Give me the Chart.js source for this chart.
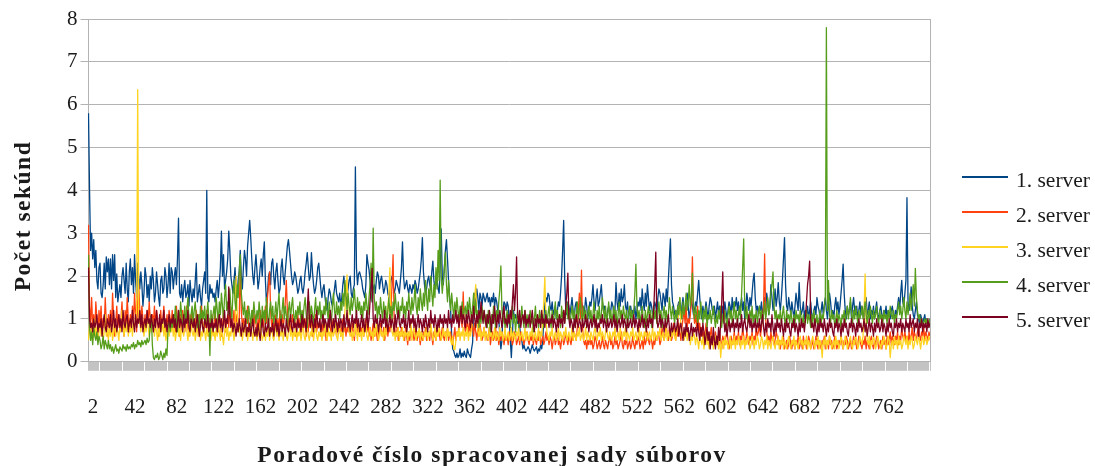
<!DOCTYPE html>
<html><head><meta charset="utf-8">
<script src="https://cdn.jsdelivr.net/npm/chart.js@4.4.0/dist/chart.umd.min.js"></script>
<style>
html,body{margin:0;padding:0;background:#fff;}
#wrap{position:relative;width:1095px;height:466px;overflow:hidden;font-family:'Liberation Serif',serif;color:#1a1a1a;}
canvas{position:absolute;left:0;top:0;}
#xtitle{position:absolute;left:192px;width:600px;top:441px;text-align:center;font-weight:bold;font-size:23.5px;letter-spacing:1.5px;line-height:26px;white-space:nowrap;}
#ytitle{position:absolute;left:-98px;top:201px;width:240px;height:30px;line-height:30px;text-align:center;font-weight:bold;font-size:23.5px;letter-spacing:1.5px;transform:rotate(-90deg);white-space:nowrap;}
.lg-line{position:absolute;left:962px;width:46px;height:1.5px;}
.lg-text{position:absolute;left:1016px;font-size:21.5px;line-height:24px;white-space:nowrap;}
</style></head><body>
<div id="wrap"><canvas id="c" width="1095" height="466"></canvas>
<div id="xtitle">Poradové číslo spracovanej sady súborov</div>
<div id="ytitle">Počet sekúnd</div>
<div id="legend"></div>
</div>
<script>
const categories = Array.from({length: 805}, (_, i) => String(i + 1));
const tickLabels = ['2','42','82','122','162','202','242','282','322','362','402','442','482','522','562','602','642','682','722','762'];
const seriesNames = ['1. server','2. server','3. server','4. server','5. server'];
const seriesColors = ['#004586','#ff420e','#ffd320','#579d1c','#7e0021'];

const server1 = [
5.8,4.0,2.6,3.0,2.4,2.85,2.2,2.6,1.9,1.7,2.2,2.3,1.6,1.5,1.8,2.3,1.7,2.45,2.1,2.4,
1.8,2.4,1.7,2.5,1.9,2.5,1.5,2.05,1.4,1.6,1.8,1.5,2.0,2.2,1.9,1.6,2.3,1.7,1.4,2.1,
2.4,1.8,2.2,1.6,2.5,1.9,1.5,2.3,2.0,1.7,2.1,1.8,1.3,1.6,2.2,2.0,1.5,1.8,1.4,2.0,
1.7,2.2,1.9,1.4,1.6,2.1,1.8,1.5,1.3,1.9,2.0,1.6,1.7,2.2,2.0,1.5,1.8,2.3,1.6,2.2,
2.1,1.7,2.0,2.2,1.8,2.4,3.35,1.6,1.5,1.8,1.4,1.7,1.9,1.5,1.6,1.8,1.3,1.9,1.6,1.4,
1.7,1.5,1.9,2.3,1.4,1.6,1.8,1.5,1.3,1.7,1.9,2.1,1.6,4.0,1.5,1.4,1.8,1.6,1.7,1.5,
1.6,1.4,1.7,1.9,1.5,1.8,2.2,3.05,2.0,2.5,1.7,1.9,2.1,2.4,3.05,2.6,2.0,1.8,1.6,1.9,
2.2,1.7,1.5,1.9,2.1,2.6,2.0,1.7,2.2,2.6,2.4,2.0,2.7,3.0,3.3,2.9,2.4,2.0,1.8,2.2,
2.5,2.1,1.7,1.9,2.2,2.4,2.0,2.5,2.8,1.9,1.4,1.6,2.0,2.1,1.8,2.3,2.4,2.0,1.7,2.1,
2.3,1.9,1.6,1.7,2.2,2.4,2.0,1.8,2.1,2.4,2.7,2.85,2.6,2.3,2.0,1.8,1.9,2.1,2.0,1.8,
1.6,1.7,1.9,2.0,1.7,1.6,1.8,2.1,2.3,2.55,2.2,1.9,2.0,2.55,2.1,1.8,1.6,1.7,1.9,2.2,
2.3,2.0,1.7,1.5,1.7,1.8,1.5,1.3,1.2,1.5,1.7,1.6,1.4,1.3,1.5,1.7,1.9,1.6,1.5,1.4,
1.6,1.3,1.5,1.8,2.0,1.7,1.4,1.5,1.7,1.9,2.0,1.6,1.5,1.7,1.8,4.55,2.2,1.8,2.05,2.1,
2.0,1.9,1.7,1.6,1.5,1.8,2.5,2.3,2.15,1.9,1.6,1.4,1.7,1.8,1.6,1.9,2.1,2.0,1.7,1.9,
2.0,1.8,1.6,1.7,1.9,1.8,1.6,1.5,1.7,1.9,2.0,1.8,1.6,1.7,1.9,1.8,1.7,1.6,1.9,2.2,
2.8,2.0,1.7,1.8,1.9,1.7,1.6,1.8,1.7,1.6,1.8,1.7,1.9,1.8,1.6,1.7,1.9,2.1,2.4,2.9,
2.1,1.8,1.6,1.7,1.9,2.0,1.8,1.7,2.1,2.35,1.9,1.7,1.8,1.9,1.7,1.6,2.2,3.1,2.0,1.8,
2.2,2.6,2.85,2.4,1.9,1.5,1.2,0.6,0.3,0.25,0.15,0.1,0.2,0.1,0.15,0.3,0.1,0.2,0.12,0.25,
0.15,0.1,0.3,0.2,0.15,0.1,0.3,0.45,1.3,1.6,1.4,1.7,1.5,1.2,1.6,1.5,1.3,1.6,1.5,1.4,
1.5,1.6,1.4,1.5,1.3,1.5,1.4,1.6,1.3,1.5,1.4,1.2,1.0,0.6,0.3,0.5,1.2,1.4,1.35,1.2,
1.4,1.3,0.95,0.5,0.1,0.6,1.2,1.0,1.1,1.0,0.9,0.95,0.8,0.6,0.5,0.3,0.4,0.3,0.25,0.3,
0.35,0.3,0.2,0.3,0.4,0.3,0.25,0.3,0.35,0.2,0.3,0.25,0.4,0.3,0.5,1.0,1.35,1.5,1.4,1.6,
1.55,1.3,1.2,1.4,1.1,1.2,1.3,1.0,1.2,1.4,1.3,1.6,2.0,2.6,3.3,1.9,1.2,1.1,1.4,1.3,
1.1,1.3,1.5,1.2,1.0,1.3,1.4,1.2,1.1,1.3,1.2,1.4,1.3,1.1,1.2,1.5,1.3,1.0,1.2,1.4,
1.3,1.5,1.8,1.4,1.2,1.5,1.7,1.3,1.4,1.6,1.8,1.4,1.2,1.3,1.1,1.0,1.2,1.3,1.1,1.2,
1.4,1.3,1.1,1.2,1.85,1.4,1.2,1.6,1.3,1.7,1.4,1.5,1.8,1.3,1.2,1.4,1.0,1.2,1.3,1.1,
1.2,1.1,1.3,1.0,1.2,1.4,1.3,1.5,1.2,1.7,1.4,1.2,1.6,1.3,1.8,1.5,1.2,1.4,1.3,1.1,
1.2,1.4,1.3,1.1,1.5,1.7,1.6,1.4,1.2,1.6,1.5,1.3,1.7,1.4,1.9,2.4,2.87,1.8,1.4,1.3,
1.1,1.2,1.0,1.3,1.4,1.2,1.0,1.3,1.5,1.2,1.1,1.4,1.6,1.3,1.0,1.2,1.5,1.3,1.1,1.2,
1.4,1.3,1.6,1.9,1.5,1.2,1.0,1.3,1.1,1.2,1.4,1.2,1.0,1.3,1.5,1.4,1.2,1.1,1.3,1.0,
1.2,1.4,1.1,1.3,1.2,1.0,1.3,1.1,1.4,1.2,1.0,1.2,1.4,1.3,1.1,1.5,1.2,1.4,1.3,1.5,
1.2,1.4,1.1,1.3,1.5,1.2,1.4,1.0,1.3,1.6,1.4,1.2,1.5,1.3,1.6,1.9,2.07,1.5,1.2,1.3,
1.1,1.3,1.2,1.4,1.0,1.3,1.5,1.2,1.6,1.4,1.1,1.3,1.8,1.5,1.2,1.4,1.7,1.3,1.5,1.85,
1.4,1.2,1.5,1.9,2.4,2.9,1.8,1.3,1.2,1.5,1.3,1.1,1.4,1.2,1.0,1.3,1.6,1.4,1.2,1.85,
1.3,1.1,1.2,1.4,1.0,1.2,1.1,1.3,1.0,1.2,1.4,1.1,1.0,1.2,1.3,1.1,1.5,1.3,1.2,1.0,
1.2,1.4,1.1,1.3,1.5,1.2,1.0,1.3,1.6,1.4,1.1,1.2,1.0,1.3,1.5,1.2,1.4,1.1,1.3,1.6,
1.9,2.28,1.6,1.2,1.0,1.3,1.1,1.2,1.4,1.0,1.3,1.5,1.2,1.1,1.3,1.0,1.2,1.4,1.1,1.3,
1.2,1.0,1.3,1.5,1.1,1.2,1.4,1.0,1.2,1.1,1.3,1.0,1.2,1.4,1.1,1.0,1.2,1.3,1.1,1.0,
1.2,1.1,1.3,1.0,1.2,1.1,1.0,1.2,1.3,1.1,1.0,1.2,1.1,1.3,1.5,1.2,1.6,1.9,1.4,1.3,
1.6,1.9,3.83,1.4,1.2,1.4,1.75,1.3,1.1,1.0,1.2,1.4,1.1,1.0,0.9,1.1,1.0,0.9,1.0,1.1,
0.9,1.0,0.8,0.9,1.0];

const server2 = [
3.2,1.3,0.9,1.5,0.8,1.1,0.7,1.4,1.0,0.6,1.2,0.9,1.3,0.7,1.0,0.8,1.5,0.9,0.6,1.1,
0.8,1.2,0.7,1.6,1.0,0.6,0.9,1.3,0.8,1.1,0.7,1.0,1.4,0.8,0.6,1.2,0.9,1.5,1.0,0.7,
1.1,0.8,1.3,0.9,1.6,1.1,0.7,1.4,1.8,1.2,0.9,1.3,1.0,0.7,1.1,0.8,1.2,0.9,1.4,1.0,
0.7,1.1,0.9,1.3,0.8,1.2,1.0,0.6,0.9,1.2,0.8,1.0,1.3,0.9,0.7,1.1,0.8,1.2,1.0,0.9,
1.2,0.8,1.1,0.7,1.3,0.9,1.0,0.6,1.1,0.8,1.2,0.9,0.7,1.0,1.3,0.8,0.6,1.1,0.9,1.2,
0.8,1.0,0.7,1.2,0.9,0.6,1.1,0.8,1.3,0.9,0.7,1.0,0.8,1.2,0.9,0.6,1.0,0.8,1.1,0.7,
0.9,1.2,0.8,1.0,0.7,1.1,0.9,0.6,0.8,1.2,1.0,0.7,0.9,1.1,0.8,1.3,1.0,0.7,0.9,1.2,
0.8,1.1,0.9,0.7,1.0,2.35,1.2,0.8,1.0,0.7,1.1,0.9,1.3,0.8,0.6,1.0,0.9,1.2,0.8,1.1,
0.9,0.7,1.0,0.8,1.2,0.9,1.1,0.8,1.0,1.3,0.9,1.5,1.8,2.1,1.2,0.8,1.0,0.7,0.9,1.1,
0.8,1.0,0.7,1.2,0.9,1.1,0.8,1.0,1.4,1.9,1.2,0.8,1.0,0.7,0.9,1.1,0.8,1.0,0.6,0.9,
1.1,0.8,1.0,0.7,0.9,1.2,0.8,1.0,0.6,0.9,0.7,1.1,0.8,1.0,0.6,0.9,0.8,1.1,0.7,0.9,
0.8,1.0,0.6,0.9,0.7,1.0,0.8,0.5,0.9,0.7,1.1,0.8,0.6,0.9,1.0,0.7,0.8,0.6,0.9,0.7,
0.9,0.6,0.8,1.0,0.7,0.9,0.6,0.8,0.7,1.0,0.8,0.6,0.9,0.7,0.5,0.8,1.0,0.7,0.9,0.6,
0.8,0.7,0.9,0.6,0.8,1.0,0.7,0.9,0.6,0.8,0.5,0.7,0.9,0.6,0.8,0.7,0.5,0.8,0.6,0.9,
0.7,0.6,0.8,0.5,0.7,0.9,0.6,0.8,0.7,1.2,1.8,2.5,1.0,0.7,0.6,0.8,0.5,0.7,0.6,0.8,
0.6,0.7,0.5,0.8,0.6,0.4,0.7,0.5,0.8,0.6,0.7,0.5,0.6,0.8,0.5,0.7,0.6,0.4,0.7,0.5,
0.7,0.6,0.8,0.5,0.6,0.7,0.5,0.8,0.6,0.4,0.7,0.6,0.5,0.8,0.6,0.7,0.5,0.6,0.8,0.6,
0.5,0.7,0.6,0.8,0.5,0.6,0.7,0.5,0.4,0.6,0.8,0.5,0.7,0.6,0.9,1.2,1.0,0.8,1.63,0.9,
0.7,0.8,1.0,0.6,0.9,0.7,1.1,0.8,0.6,0.9,0.7,0.5,0.8,0.6,0.9,0.7,0.5,0.6,0.8,0.6,
0.7,0.5,0.6,0.8,0.4,0.6,0.7,0.5,0.6,0.8,0.5,0.7,0.4,0.6,0.5,0.7,0.6,0.4,0.6,0.5,
0.6,0.4,0.7,0.5,0.6,0.4,0.5,0.7,0.6,0.4,0.5,0.6,0.4,0.7,0.5,0.6,0.4,0.5,0.6,0.7,
0.5,0.4,0.6,0.5,0.7,0.4,0.6,0.5,0.4,0.6,0.5,0.7,0.4,0.5,0.6,0.4,0.5,0.7,0.5,0.6,
0.4,0.6,0.5,0.3,0.5,0.6,0.4,0.5,0.7,0.4,0.5,0.3,0.5,0.6,0.4,0.5,0.7,0.5,0.4,0.6,
0.5,0.4,0.6,0.5,0.7,0.6,0.5,0.8,1.2,1.6,1.0,2.14,0.8,0.5,0.4,0.5,0.3,0.5,0.4,0.6,
0.4,0.5,0.3,0.4,0.6,0.5,0.3,0.4,0.5,0.3,0.4,0.6,0.4,0.3,0.5,0.4,0.3,0.5,0.6,0.4,
0.5,0.3,0.4,0.6,0.4,0.5,0.3,0.4,0.5,0.7,0.4,0.3,0.5,0.4,0.6,0.3,0.4,0.5,0.3,0.4,
0.6,0.4,0.3,0.5,0.4,0.6,0.5,0.3,0.4,0.5,0.3,0.6,0.4,0.5,0.7,0.5,0.4,0.6,0.5,0.3,
0.5,0.4,0.6,0.5,0.7,0.6,0.4,0.5,0.8,0.6,0.5,0.7,0.9,0.6,0.5,0.8,0.7,0.5,0.6,0.9,
0.7,0.5,0.8,0.6,0.9,0.7,0.5,0.8,1.0,1.2,0.9,1.3,0.8,1.0,0.9,1.1,1.4,2.45,1.2,0.9,
1.1,0.8,1.3,0.7,0.9,0.6,0.8,0.5,0.7,0.6,0.9,0.5,0.7,0.4,0.6,0.8,0.5,0.6,0.4,0.7,
0.5,0.6,0.4,0.7,0.5,0.3,0.6,0.5,0.4,0.6,0.7,0.5,0.3,0.5,0.6,0.4,0.5,0.7,0.4,0.6,
0.5,0.7,0.4,0.6,0.5,0.8,0.6,0.4,0.5,0.7,0.5,0.4,0.6,0.5,0.7,0.4,0.6,0.5,0.8,0.6,
0.7,0.9,0.6,0.8,1.0,1.3,2.52,1.0,0.7,0.5,0.6,0.4,0.7,0.5,0.6,0.4,0.5,0.7,0.6,0.4,
0.5,0.3,0.5,0.4,0.6,0.3,0.4,0.5,0.3,0.4,0.6,0.4,0.3,0.5,0.4,0.3,0.5,0.4,0.6,0.3,
0.4,0.5,0.3,0.6,0.4,0.5,0.3,0.4,0.6,0.5,0.3,0.4,0.5,0.3,0.4,0.6,0.4,0.3,0.5,0.4,
0.3,0.5,0.4,0.6,0.3,0.4,0.5,0.3,0.6,0.4,0.5,0.3,0.4,0.6,0.5,0.3,0.4,0.5,0.4,0.6,
0.4,0.3,0.5,0.4,0.6,0.5,0.3,0.4,0.5,0.3,0.4,0.6,0.4,0.5,0.3,0.4,0.6,0.5,0.4,0.3,
0.5,0.4,0.6,0.3,0.5,0.4,0.3,0.5,0.6,0.4,0.3,0.5,0.4,0.6,0.5,0.3,0.4,0.5,0.3,0.6,
0.4,0.5,0.3,0.6,0.4,0.5,0.7,0.4,0.6,0.5,0.4,0.6,0.5,0.7,0.4,0.6,0.5,0.8,0.6,0.5,
0.7,0.5,0.6,0.4,0.7,0.5,0.6,0.8,0.5,0.7,0.6,0.5,0.7,0.8,0.6,0.5,0.7,0.6,0.8,0.5,
0.7,0.6,0.5,0.7,0.6];

const server3 = [
0.5,0.9,0.6,0.8,0.5,0.7,1.0,0.6,0.8,0.5,0.7,0.9,0.6,0.8,0.5,0.7,1.1,0.6,0.8,0.5,
0.8,0.6,0.9,0.5,0.7,1.0,0.6,0.8,0.7,0.5,0.9,0.7,1.2,0.8,0.6,0.9,0.7,1.0,0.6,0.8,
0.7,0.9,0.6,1.0,0.8,0.9,1.2,6.35,1.0,0.9,0.7,1.0,0.8,0.6,0.9,0.7,1.1,0.8,0.6,0.9,
0.7,1.0,0.8,0.6,0.9,0.7,0.5,0.8,0.6,0.9,0.7,1.0,0.6,0.8,0.5,0.7,0.9,0.6,0.8,0.7,
0.9,0.6,0.8,0.5,0.7,1.0,0.6,0.8,0.5,0.9,0.7,0.6,0.8,1.0,0.7,0.5,0.8,0.6,0.9,0.7,
0.6,0.8,0.5,0.7,0.9,0.6,0.8,0.5,0.7,0.6,0.9,0.7,0.5,0.8,0.6,0.7,0.9,0.5,0.8,0.6,
0.7,0.5,0.8,0.6,0.9,0.7,0.5,0.8,0.6,0.4,0.7,0.9,0.6,0.8,0.5,0.7,0.6,0.9,0.7,0.5,
0.8,2.0,1.2,0.7,0.9,0.6,0.8,0.5,0.7,0.9,0.6,0.8,0.5,0.7,0.6,0.9,0.7,0.5,0.8,0.6,
0.7,0.5,0.8,0.6,0.9,0.7,0.5,0.6,0.8,0.5,0.7,0.6,0.9,0.5,0.7,0.8,0.6,0.5,0.7,0.9,
0.6,0.8,0.5,0.7,0.6,0.9,0.5,0.7,0.8,0.6,0.5,0.7,0.9,0.6,0.8,0.5,0.7,0.6,0.8,0.5,
0.7,0.6,0.8,0.5,0.7,0.9,0.6,0.5,0.7,0.8,0.6,0.5,0.7,0.6,0.9,0.5,0.7,0.8,0.6,0.5,
0.7,0.6,0.8,0.5,0.7,0.6,0.9,0.7,0.5,0.8,0.6,0.7,0.5,0.8,0.6,0.7,0.9,0.6,0.5,0.7,
0.8,0.6,0.7,0.5,0.8,1.2,1.6,2.03,1.0,0.7,0.6,0.8,0.5,0.7,0.6,0.9,0.7,0.5,0.8,0.6,
0.7,0.5,0.8,0.6,0.7,0.9,0.6,0.5,0.7,0.8,0.6,0.7,0.5,0.8,0.6,0.9,0.7,0.5,0.6,0.8,
0.6,0.7,0.5,0.8,0.6,0.7,1.2,1.6,2.2,1.0,0.7,0.6,0.8,0.5,0.7,0.6,0.8,0.5,0.7,0.6,
0.8,0.5,0.7,0.6,0.8,0.5,0.7,0.6,0.9,0.5,0.7,0.8,0.6,0.5,0.7,0.6,0.8,0.5,0.7,0.6,
0.5,0.7,0.6,0.8,0.5,0.7,0.6,0.9,0.7,0.5,0.6,0.8,0.5,0.7,0.6,0.8,0.7,0.5,0.6,0.8,
0.6,0.7,0.5,0.8,0.6,0.7,0.5,0.4,0.6,0.3,0.28,0.5,0.7,0.6,0.8,0.5,0.7,0.6,0.8,0.5,
0.7,0.6,0.8,0.5,0.7,0.6,0.8,1.0,1.3,1.5,1.8,1.0,0.7,0.6,0.8,0.5,0.7,0.6,0.8,0.5,
0.7,0.6,0.5,0.8,0.6,0.7,0.5,0.6,0.8,0.5,0.7,0.6,0.5,0.8,0.6,0.7,0.5,0.6,0.8,0.5,
0.6,0.7,0.5,0.6,0.8,0.5,0.7,0.6,0.5,0.7,0.6,0.8,0.5,0.6,0.7,0.5,0.6,0.8,0.5,0.7,
0.6,0.5,0.7,0.6,0.8,0.5,0.6,0.7,0.5,0.6,0.8,0.5,0.7,0.6,1.0,1.4,1.98,1.0,0.7,0.6,
0.5,0.7,0.6,0.8,0.5,0.6,0.7,0.5,0.6,0.8,0.5,0.7,0.6,0.5,0.7,0.6,0.8,0.5,0.6,0.7,
0.5,0.6,0.8,0.5,0.7,0.6,0.5,0.7,0.6,0.8,0.5,0.6,0.7,0.5,0.6,0.8,0.5,0.7,0.6,0.5,
0.7,0.6,0.5,0.7,0.8,0.6,0.5,0.7,0.6,0.8,0.5,0.7,0.6,0.5,0.7,0.8,0.6,0.5,0.7,0.6,
0.5,0.7,0.6,0.8,0.5,0.6,0.7,0.5,0.8,0.6,0.5,0.7,0.6,0.8,0.5,0.7,0.6,0.5,0.7,0.6,
0.8,0.5,0.6,0.7,0.5,0.6,0.8,0.5,0.7,0.6,0.5,0.7,0.6,0.8,0.5,0.6,0.7,0.5,0.6,0.8,
0.5,0.7,0.6,0.5,0.7,0.6,0.8,0.5,0.6,0.7,0.5,0.6,0.8,0.5,0.7,0.6,0.5,0.7,0.6,0.8,
0.6,0.5,0.7,0.9,1.2,1.5,0.8,0.6,0.7,0.5,0.6,0.8,0.5,0.7,0.6,0.4,0.6,0.5,0.7,0.6,
0.4,0.6,0.5,0.3,0.6,0.5,0.4,0.6,0.3,0.5,0.7,0.4,0.5,0.3,0.6,0.4,0.5,0.3,0.5,0.6,
0.4,0.5,0.3,0.6,0.1,0.4,0.5,0.3,0.6,0.4,0.5,0.3,0.4,0.6,0.3,0.5,0.4,0.6,0.3,0.5,
0.4,0.6,0.5,0.3,0.5,0.4,0.6,0.3,0.5,0.4,0.6,0.5,0.3,0.4,0.6,0.5,0.3,0.5,0.4,0.6,
0.5,0.3,0.4,0.6,0.5,0.3,0.5,0.4,0.6,0.3,0.5,0.4,0.3,0.5,0.6,0.4,0.3,0.5,0.4,0.6,
0.3,0.5,0.4,0.6,0.3,0.5,0.4,0.3,0.5,0.6,0.4,0.3,0.5,0.4,0.6,0.3,0.5,0.4,0.3,0.5,
0.6,0.4,0.5,0.3,0.5,0.4,0.6,0.3,0.5,0.4,0.3,0.5,0.6,0.4,0.3,0.5,0.4,0.6,0.3,0.5,
0.4,0.1,0.5,0.4,0.6,0.3,0.5,0.4,0.6,0.5,0.3,0.4,0.5,0.3,0.6,0.4,0.5,0.3,0.4,0.6,
0.5,0.3,0.4,0.6,0.5,0.3,0.4,0.5,0.6,0.4,0.3,0.5,0.4,0.6,0.5,0.3,0.4,0.6,0.5,0.4,
0.6,1.2,2.05,0.9,0.5,0.4,0.6,0.3,0.5,0.4,0.6,0.5,0.3,0.4,0.6,0.5,0.4,0.3,0.5,0.4,
0.6,0.5,0.3,0.4,0.6,0.5,0.1,0.4,0.5,0.3,0.6,0.4,0.5,0.3,0.6,0.4,0.5,0.3,0.4,0.6,
0.5,0.4,0.6,0.3,0.5,0.4,0.6,0.5,0.3,0.4,0.6,0.5,0.4,0.6,0.5,0.3,0.5,0.6,0.4,0.5,
0.6,0.4,0.5,0.6,0.5];

const server4 = [
2.5,0.8,0.5,0.7,0.4,0.8,0.6,0.5,0.7,0.4,0.6,0.5,0.3,0.4,0.6,0.3,0.5,0.4,0.3,0.5,
0.3,0.4,0.25,0.35,0.2,0.3,0.4,0.25,0.3,0.2,0.35,0.3,0.25,0.4,0.3,0.35,0.25,0.4,0.3,0.35,
0.3,0.4,0.35,0.45,0.3,0.4,0.35,0.5,0.4,0.45,0.35,0.5,0.4,0.45,0.5,0.4,0.55,0.45,0.5,0.9,
1.1,0.4,0.1,0.05,0.15,0.1,0.2,0.05,0.1,0.25,0.15,0.05,0.2,0.1,0.3,0.15,0.8,1.0,0.7,0.9,
0.8,1.1,0.9,1.3,1.0,0.7,1.2,0.9,1.4,1.1,0.8,1.0,1.3,0.9,1.2,1.5,1.0,0.8,1.1,1.3,
0.9,1.2,1.4,1.0,0.8,1.1,0.7,1.3,0.9,1.2,1.0,1.3,0.9,1.1,1.4,1.0,0.15,1.2,0.8,1.1,
1.3,1.0,1.5,1.2,0.9,1.4,1.1,1.6,1.3,1.0,1.5,1.8,1.2,1.4,1.1,1.7,1.3,1.0,1.6,1.9,
1.4,1.2,1.8,1.5,2.1,2.5,1.6,1.3,1.1,1.4,1.0,1.2,0.9,1.3,1.1,0.8,1.2,1.0,1.4,1.1,
0.9,1.2,1.0,1.4,1.1,0.8,1.3,1.0,1.2,0.9,1.5,1.1,0.8,1.2,1.4,1.0,1.3,0.9,1.1,1.4,
1.0,1.3,1.6,1.1,0.9,1.2,1.5,1.0,1.3,1.1,0.8,1.2,1.4,1.0,1.3,1.5,1.1,0.9,1.2,1.0,
1.3,1.1,1.4,0.9,1.2,1.0,1.3,1.5,1.1,0.8,1.2,1.4,1.0,1.3,1.1,0.9,1.2,1.5,1.0,1.3,
1.1,1.4,1.0,1.2,0.9,1.3,1.1,1.5,1.2,1.0,1.4,1.1,0.9,1.3,1.6,1.2,1.0,1.4,1.1,1.3,
1.0,1.4,1.2,1.6,1.3,1.9,1.5,1.2,1.6,1.3,1.1,1.5,1.2,1.4,1.7,1.3,1.1,1.5,1.2,1.4,
1.1,1.3,1.0,1.4,1.2,1.6,1.3,1.1,1.5,1.8,2.3,1.4,3.12,1.5,1.2,1.4,1.0,1.3,1.1,1.5,
1.2,1.0,1.4,1.1,1.3,0.9,1.2,1.5,1.1,1.3,1.0,1.4,1.2,1.6,1.3,1.1,1.4,1.0,1.3,1.2,
1.5,1.1,1.3,1.0,1.4,1.2,1.6,1.3,1.1,1.5,1.2,1.4,1.8,1.3,1.1,1.5,1.2,1.7,1.4,1.2,
1.6,1.3,1.9,1.5,1.2,1.7,1.4,2.0,1.6,1.3,1.8,1.5,2.2,1.7,2.6,1.9,4.24,2.0,1.6,1.9,
2.2,2.56,1.8,1.4,1.9,1.5,1.2,1.6,1.3,1.0,1.4,1.1,1.5,1.2,1.0,1.3,1.1,1.4,1.0,1.2,
1.3,1.0,1.4,1.1,1.5,1.2,1.0,1.3,1.6,1.1,1.4,1.0,1.2,0.8,1.1,0.9,1.3,1.0,1.2,0.9,
1.1,0.8,1.2,1.0,0.7,1.1,0.9,1.3,1.0,0.8,1.2,1.0,1.4,1.7,2.24,1.2,0.9,1.1,0.8,1.0,
1.2,0.9,1.1,0.8,1.0,1.3,0.9,1.1,0.7,1.0,1.2,0.8,1.1,0.9,1.3,1.0,0.8,1.2,0.9,1.1,
0.8,1.0,1.2,0.9,1.1,0.7,1.0,1.3,0.9,1.1,0.8,1.2,1.0,0.9,1.1,0.8,1.0,1.2,0.9,1.1,
1.3,1.0,0.8,1.2,0.9,1.1,1.4,1.0,1.2,0.9,1.1,0.8,1.3,1.0,1.2,0.9,1.1,1.4,1.0,1.2,
0.9,1.1,1.3,1.0,1.2,0.8,1.1,1.4,1.0,1.2,1.5,1.1,0.9,1.3,1.0,1.2,0.8,1.1,1.3,1.0,
1.2,0.9,1.1,1.4,1.0,0.8,1.2,1.0,1.3,0.9,1.1,1.5,1.2,1.0,1.3,0.9,1.1,1.4,1.0,1.2,
0.9,1.1,1.3,1.0,1.2,0.8,1.1,1.4,1.0,1.2,0.9,1.3,1.1,1.0,1.2,0.8,1.1,1.3,1.0,1.2,
0.9,1.2,1.6,2.28,1.3,1.0,1.2,0.9,1.1,1.3,1.0,0.8,1.2,0.9,1.1,1.3,1.0,1.2,0.8,1.1,
1.3,1.0,1.2,0.9,1.1,1.4,1.0,1.2,0.8,1.1,1.3,1.0,1.2,0.9,1.1,1.5,1.2,1.0,1.3,1.1,
0.9,1.2,1.0,1.3,1.1,1.5,1.2,1.0,1.4,1.1,1.3,1.6,1.2,1.4,1.8,1.3,1.5,2.07,1.2,1.0,
1.3,1.1,0.9,1.2,1.0,1.4,1.1,0.9,1.2,1.0,1.3,0.8,1.1,1.0,1.2,0.9,1.1,1.3,1.0,0.8,
1.1,0.9,1.2,1.0,1.3,0.8,1.1,0.9,1.2,1.0,0.8,1.1,1.3,1.0,1.2,0.9,1.1,1.4,1.0,1.2,
0.9,1.1,1.3,1.0,1.6,2.2,2.87,1.2,1.0,1.3,0.9,1.1,1.2,1.0,1.3,0.9,1.1,1.0,1.2,0.9,
1.1,1.3,1.0,1.2,0.9,1.1,1.4,1.0,1.2,1.5,1.1,1.3,1.6,1.8,2.1,1.3,1.0,1.2,0.9,1.1,
1.0,1.2,0.9,1.1,1.3,1.0,0.8,1.2,1.0,1.1,0.9,1.2,1.0,0.8,1.1,0.9,1.2,1.0,1.1,0.9,
1.2,1.0,0.9,1.1,0.8,1.0,1.2,0.9,1.1,1.0,0.8,1.1,0.9,1.2,1.0,0.9,1.1,0.8,1.0,1.2,
0.9,1.1,1.0,1.3,1.5,7.8,1.2,1.9,1.1,0.9,1.2,1.0,1.1,0.8,1.0,1.2,0.9,1.1,1.0,0.8,
1.1,1.0,1.2,0.9,1.1,1.3,1.0,1.2,1.5,1.1,0.9,1.2,1.0,1.3,1.1,0.9,1.2,1.0,1.1,1.3,
1.0,1.2,1.4,1.1,0.9,1.2,1.0,1.3,1.1,0.9,1.2,1.0,1.1,1.3,1.0,0.9,1.2,1.0,1.1,0.9,
1.2,1.0,1.1,0.9,1.2,1.0,1.3,1.1,1.0,1.2,0.9,1.1,1.0,1.2,1.4,1.1,1.3,1.0,1.2,1.5,
1.2,1.0,1.4,1.1,1.3,1.6,1.2,1.5,1.8,1.3,2.18,1.5,1.2,1.0,1.1,0.9,1.0,0.8,0.9,1.0,
0.9,1.0,0.8,0.9,1.0];

const server5 = [
2.2,1.0,0.8,0.9,0.7,1.0,0.8,0.9,1.1,0.7,0.9,0.8,1.0,0.6,0.9,1.1,0.8,0.7,1.0,0.9,
0.8,1.1,0.7,0.9,1.2,0.8,1.0,0.7,0.9,1.1,0.8,1.0,0.7,1.2,0.9,0.8,1.0,1.1,0.7,0.9,
1.0,0.8,1.2,0.9,0.7,1.1,0.8,1.0,0.9,1.2,0.8,1.1,0.7,0.9,1.0,0.8,1.2,0.9,1.0,0.8,
1.1,0.9,0.7,1.0,0.8,1.2,0.9,0.8,1.1,0.7,1.0,0.9,1.2,0.8,1.0,0.7,0.9,1.1,0.8,1.0,
0.9,1.1,0.8,1.0,0.7,0.9,1.2,0.8,1.0,0.9,0.7,1.1,0.8,1.0,0.9,1.2,0.8,0.7,1.0,0.9,
0.8,1.0,0.7,0.9,1.1,0.8,0.6,0.9,1.0,0.8,0.7,1.0,0.9,0.8,1.1,0.7,0.9,0.8,1.0,0.7,
0.9,0.8,1.0,0.7,0.9,1.1,0.8,1.0,0.7,0.9,1.2,0.8,1.0,0.9,1.75,1.1,0.8,1.0,0.7,0.9,
0.8,0.6,0.9,0.7,1.0,0.8,0.6,0.9,0.7,0.8,1.0,0.6,0.8,0.7,0.9,0.6,0.8,1.0,0.7,0.6,
0.8,0.6,0.9,0.7,0.5,0.8,1.0,0.7,0.6,0.9,0.7,0.8,1.0,0.6,0.8,0.7,0.9,0.6,0.8,1.0,
0.7,0.9,0.6,0.8,1.0,0.7,0.9,0.8,0.6,1.0,0.8,0.7,0.9,1.1,0.8,0.7,1.0,0.8,0.9,0.7,
1.0,0.8,0.9,0.7,1.1,0.8,1.0,0.9,0.7,1.2,1.7,1.0,0.8,1.1,0.9,0.7,1.0,0.8,1.2,0.9,
0.8,1.0,0.7,0.9,1.1,0.8,1.0,0.9,0.7,1.0,0.8,1.2,0.9,0.7,1.0,0.8,1.1,0.9,0.7,1.0,
0.8,1.0,0.9,0.7,1.1,0.8,0.9,1.2,0.8,1.0,0.7,0.9,1.1,0.8,1.0,0.9,1.2,0.8,1.0,0.7,
0.9,1.1,0.8,1.0,0.7,0.9,1.2,0.8,1.0,1.4,1.7,2.18,1.0,0.8,1.1,0.9,1.0,0.7,0.9,1.1,
0.8,1.0,0.9,1.2,0.8,1.0,0.7,0.9,1.1,0.8,1.0,0.9,0.7,1.1,0.8,1.0,1.2,0.9,0.8,1.0,
0.9,1.1,0.8,1.0,0.7,0.9,1.2,0.8,1.0,0.9,1.1,0.8,1.0,0.7,0.9,1.1,0.8,1.0,0.9,0.7,
1.0,0.8,1.1,0.9,0.7,1.0,0.8,1.2,0.9,1.0,0.8,1.1,0.9,0.7,1.0,0.8,1.1,0.9,1.0,0.8,
1.1,0.9,1.0,0.8,1.2,0.9,1.0,0.8,1.1,0.9,1.0,1.2,0.9,1.1,0.8,1.0,1.3,0.9,1.1,1.0,
0.8,1.1,0.9,1.2,1.0,0.8,1.1,0.9,1.3,1.0,0.8,1.1,0.9,1.2,1.0,1.4,1.1,0.9,1.2,1.0,
0.8,1.1,0.9,1.2,1.0,0.7,1.1,0.9,1.3,1.0,0.8,1.1,0.9,1.2,1.0,0.8,1.1,1.3,0.9,1.0,
0.8,1.1,0.9,1.2,1.0,1.4,1.8,1.2,1.6,2.45,1.1,0.9,1.2,0.8,1.0,1.1,0.9,1.2,0.8,1.0,
0.9,1.1,0.8,1.0,1.2,0.9,0.7,1.0,0.8,1.1,0.9,1.0,0.8,1.2,0.9,1.0,0.8,1.1,0.9,1.0,
0.8,1.0,0.9,1.1,0.8,1.0,0.9,0.7,1.0,0.8,1.1,0.9,1.0,0.8,1.2,0.9,1.3,1.6,2.07,1.0,
0.8,1.0,0.9,0.7,1.0,0.8,1.1,0.9,0.8,1.0,0.9,0.7,1.0,0.8,0.9,1.1,0.8,1.0,0.7,0.9,
1.0,0.8,0.9,1.1,0.8,1.0,0.7,0.9,0.8,1.0,0.9,1.1,0.8,1.0,0.9,0.7,1.0,0.8,0.9,1.0,
0.8,0.9,1.1,0.8,1.0,0.7,0.9,1.0,0.8,0.9,1.1,0.8,1.0,0.9,0.7,1.0,0.8,0.9,1.0,0.8,
0.9,1.1,0.8,1.0,0.9,0.7,1.0,0.8,0.9,1.1,0.8,1.0,0.9,0.7,1.0,0.8,1.1,0.9,1.0,0.8,
1.2,1.8,2.56,1.0,0.8,0.9,1.1,0.8,1.0,0.9,0.7,1.0,0.8,0.9,1.1,0.8,0.6,0.9,0.7,0.8,
0.9,0.7,0.8,1.0,0.6,0.8,0.9,0.7,0.5,0.8,0.6,0.9,0.7,0.8,0.5,0.7,0.9,0.6,0.8,0.7,
0.8,0.6,0.9,0.7,0.5,0.8,0.6,0.9,0.7,0.4,0.6,0.8,0.5,0.7,0.3,0.6,0.4,0.8,0.5,0.3,
0.6,0.4,0.8,0.5,0.9,1.4,2.1,1.0,0.7,0.9,0.6,0.8,1.0,0.7,0.9,0.8,1.0,0.7,0.9,0.8,
1.0,0.7,0.9,0.8,1.1,0.7,0.9,1.0,0.8,0.7,0.9,1.1,0.8,1.0,0.7,0.9,0.8,1.0,0.7,0.9,
0.8,1.0,0.7,0.9,1.1,0.8,0.6,0.9,0.7,1.0,0.8,0.9,0.7,1.1,0.8,0.6,0.9,0.7,1.0,0.8,
0.9,0.7,1.0,0.8,0.6,0.9,0.7,1.0,0.8,0.9,0.7,0.6,0.9,0.8,1.0,0.7,0.9,0.8,0.6,0.9,
0.7,1.0,0.8,0.9,0.7,1.0,1.4,1.8,2.0,2.35,1.0,0.8,0.9,0.7,1.0,0.8,0.6,0.9,0.7,1.0,
0.8,0.9,0.7,1.0,0.8,0.6,0.9,0.7,1.0,0.8,0.9,0.7,0.6,0.9,0.8,1.0,0.7,0.9,0.8,0.6,
0.9,0.7,1.0,0.8,0.9,0.7,0.6,0.9,0.8,1.0,0.7,0.9,0.8,0.6,0.9,0.7,1.0,0.8,0.9,0.7,
0.8,1.0,0.7,0.9,0.6,0.8,1.0,0.7,0.9,0.8,0.6,0.9,0.7,1.0,0.8,0.9,0.7,0.8,1.0,0.7,
0.9,0.8,0.6,0.9,0.7,1.0,0.8,0.9,0.7,0.6,0.9,0.8,1.0,0.7,0.9,0.8,1.0,0.7,0.9,0.8,
0.7,1.0,0.8,0.9,0.7,1.1,0.8,0.9,1.0,0.7,0.9,0.8,1.0,0.6,0.9,0.8,1.0,0.7,0.9,0.8,
0.9,0.7,1.0,0.8,0.9];

const seriesData = [server1, server2, server3, server4, server5];
const gridColor = '#b3b3b3';
const textColor = '#1a1a1a';

// HTML legend
const legendTops = [177, 212, 247, 282, 317];
const lg = document.getElementById('legend');
seriesNames.forEach((n, i) => {
  const l = document.createElement('div');
  l.className = 'lg-line';
  l.style.top = (legendTops[i] - 0.75) + 'px';
  l.style.background = seriesColors[i];
  lg.appendChild(l);
  const t = document.createElement('div');
  t.className = 'lg-text';
  t.style.top = (legendTops[i] - 9.5) + 'px';
  t.textContent = n;
  lg.appendChild(t);
});

const rightBorder = {
  id: 'rightBorder',
  afterDraw(chart) {
    const {ctx, chartArea} = chart;
    ctx.save();
    ctx.strokeStyle = gridColor;
    ctx.lineWidth = 1;
    ctx.beginPath();
    const x = Math.round(chartArea.right) + 0.5;
    ctx.moveTo(x, chartArea.top);
    ctx.lineTo(x, chartArea.bottom);
    ctx.stroke();
    ctx.restore();
  }
};

new Chart(document.getElementById('c').getContext('2d'), {
  type: 'line',
  data: {
    labels: categories,
    datasets: seriesData.map((d, i) => ({
      label: seriesNames[i],
      data: d,
      borderColor: seriesColors[i],
      backgroundColor: seriesColors[i],
      borderWidth: 1.3,
      pointRadius: 0,
      tension: 0,
      fill: false,
      borderJoinStyle: 'round',
      order: 4 - i
    }))
  },
  options: {
    responsive: false,
    animation: false,
    devicePixelRatio: 1,
    layout: {padding: {left: 64, right: 165, top: 19, bottom: 22}},
    plugins: {legend: {display: false}, tooltip: {enabled: false}},
    scales: {
      x: {
        type: 'category',
        offset: false,
        grid: {display: true, drawOnChartArea: false, drawTicks: true, tickLength: 9, color: '#9a9a9a', lineWidth: 0.6},
        border: {display: true, color: gridColor},
        ticks: {
          autoSkip: false, maxRotation: 0, minRotation: 0, padding: 24, labelOffset: 3.5,
          color: textColor, font: {family: 'Liberation Serif', size: 21},
          callback: function(v, i) { const l = categories[i]; return tickLabels.includes(l) ? l : ''; }
        }
      },
      y: {
        min: 0, max: 8,
        ticks: {stepSize: 1, padding: 3, color: textColor, font: {family: 'Liberation Serif', size: 21}},
        grid: {color: gridColor, tickLength: 8, lineWidth: 1},
        border: {display: true, color: gridColor}
      }
    }
  },
  plugins: [rightBorder]
});
</script>
</body></html>
